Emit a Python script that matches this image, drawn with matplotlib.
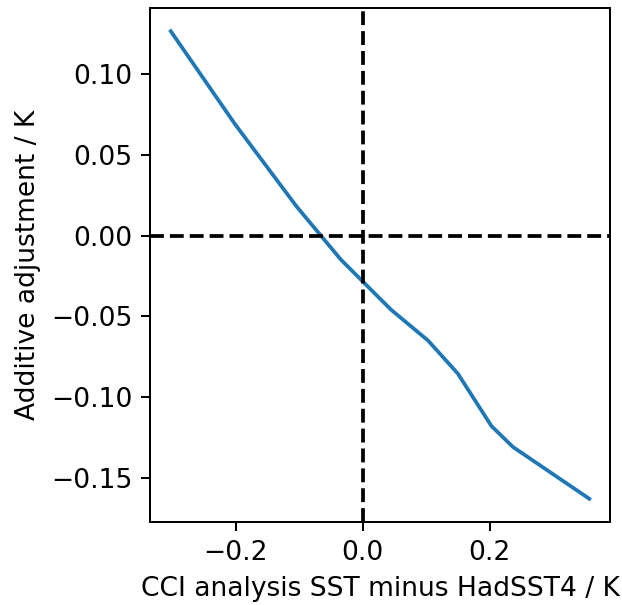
import numpy as np
import matplotlib
matplotlib.use("Agg")
import matplotlib.pyplot as plt

# CCI analysis SST minus HadSST4 (K) vs additive adjustment (K)
sst_diff = [-0.302, -0.201, -0.104, -0.034, 0.045, 0.103, 0.150, 0.203, 0.237, 0.357]
adjustment = [0.1265, 0.069, 0.018, -0.015, -0.046, -0.065, -0.0855, -0.118, -0.131, -0.163]

DPI = 180
plt.rcParams['font.size'] = 10.6
fig = plt.figure(figsize=(622 / DPI, 605 / DPI), dpi=DPI)
ax = fig.add_axes([0.241, 0.137, 0.74, 0.85])

ax.plot(sst_diff, adjustment, color='#1f77b4')
ax.axhline(0, color='k', ls='--')
ax.axvline(0, color='k', ls='--')

ax.set_xticks([-0.2, 0.0, 0.2])
ax.set_yticks([-0.15, -0.10, -0.05, 0.0, 0.05, 0.10])
ax.set_xlabel('CCI analysis SST minus HadSST4 / K')
ax.set_ylabel('Additive adjustment / K')

fig.savefig('out.png', dpi=DPI)
